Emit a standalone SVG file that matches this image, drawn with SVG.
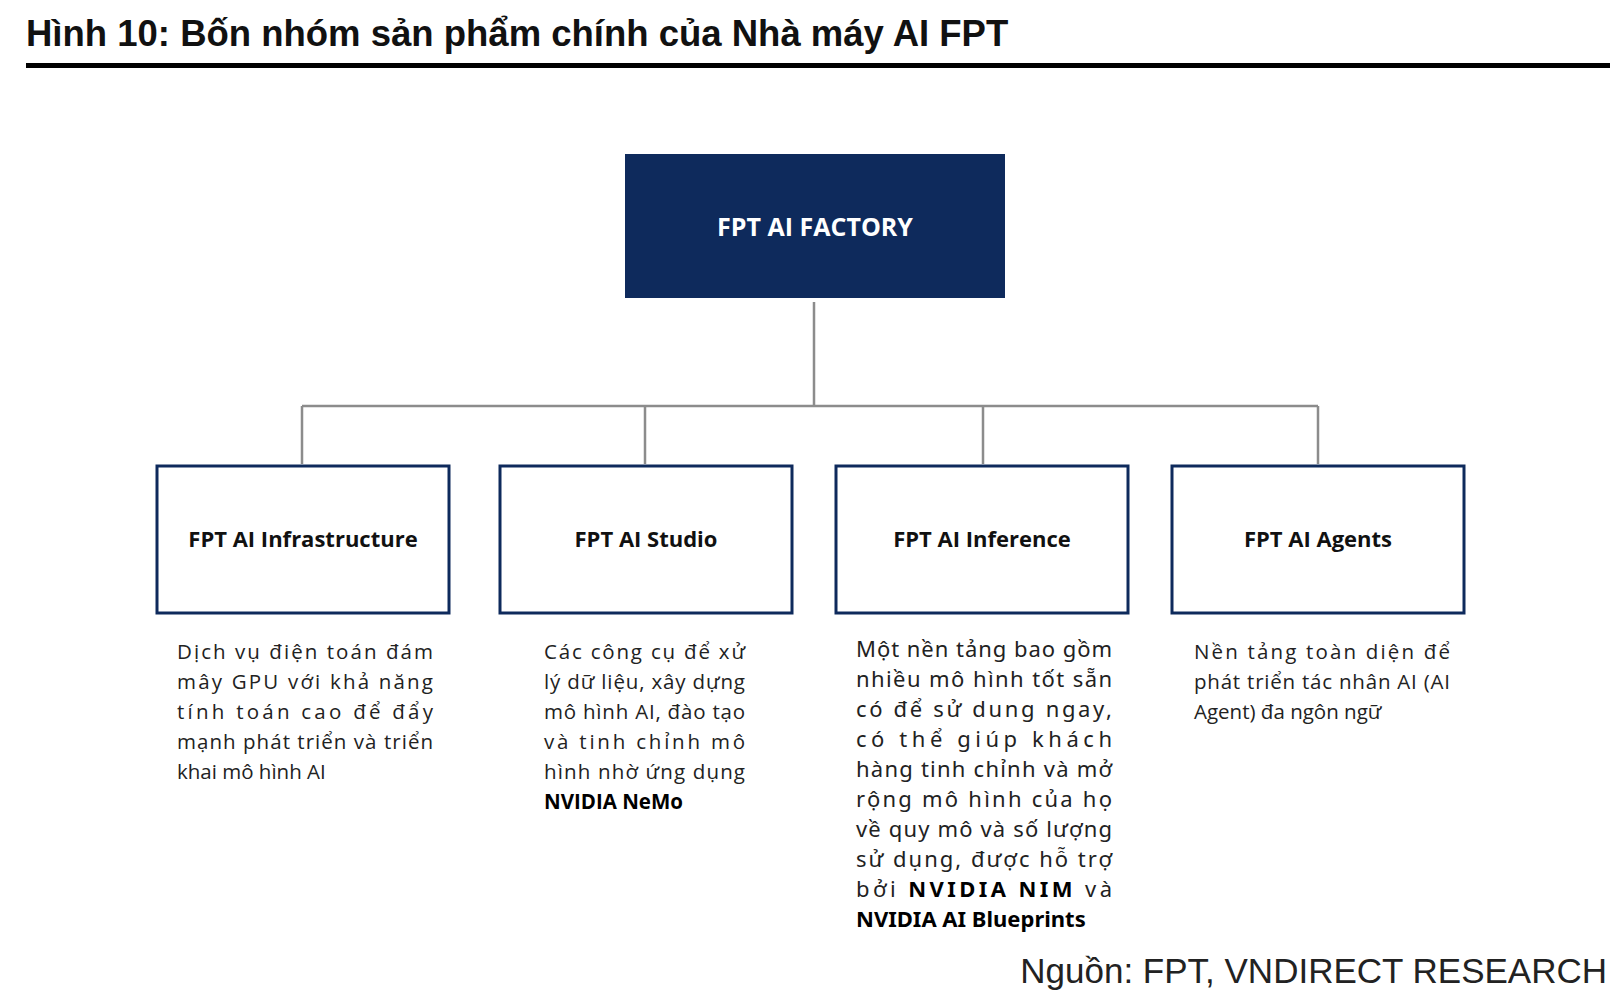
<svg xmlns="http://www.w3.org/2000/svg" width="1624" height="996" viewBox="0 0 1624 996">
<style>
.t{font-family:"Liberation Sans",Arial,sans-serif}
.n{font-family:"Open Sans","Noto Sans",sans-serif;font-weight:bold;fill:#111;text-anchor:middle}
.d{font-family:"Open Sans","Noto Sans",sans-serif;font-size:20.5px;fill:#222}
.d3{font-family:"Noto Sans","Open Sans",sans-serif;font-size:22px;fill:#222}
.b{font-weight:bold;fill:#000}
.box{fill:#fff;stroke:#0e2a5c;stroke-width:3}
.c{stroke:#8c8c8c;stroke-width:2.5;fill:none}
</style>
<rect width="1624" height="996" fill="#fff"/>
<text class="t" x="26" y="46" font-size="36.5" font-weight="bold" fill="#111">Hình 10: Bốn nhóm sản phẩm chính của Nhà máy AI FPT</text>
<rect x="26" y="63" width="1584" height="5" fill="#000"/>
<g id="connectors">
<path class="c" d="M814 302V406M302 406H1318M302 406V464M645 406V464M983 406V464M1318 406V464"/>
</g>
<g id="factory"><rect x="625" y="154" width="380" height="144" fill="#0e2a5c"/>
<text class="n" x="815" y="236" font-size="25" style="fill:#fff">FPT AI FACTORY</text></g>
<g id="infra"><rect class="box" x="157" y="466" width="292" height="147"/>
<text class="n" x="303" y="547" font-size="22">FPT AI Infrastructure</text>
<text class="d" x="177" y="659" textLength="256" lengthAdjust="spacing">Dịch vụ điện toán đám</text>
<text class="d" x="177" y="689" textLength="256" lengthAdjust="spacing">mây GPU với khả năng</text>
<text class="d" x="177" y="719" textLength="256" lengthAdjust="spacing">tính toán cao để đẩy</text>
<text class="d" x="177" y="749" textLength="256" lengthAdjust="spacing">mạnh phát triển và triển</text>
<text class="d" x="177" y="779">khai mô hình AI</text></g>
<g id="studio"><rect class="box" x="500" y="466" width="292" height="147"/>
<text class="n" x="646" y="547" font-size="22">FPT AI Studio</text>
<text class="d" x="544" y="659" textLength="201" lengthAdjust="spacing">Các công cụ để xử</text>
<text class="d" x="544" y="689" textLength="201" lengthAdjust="spacing">lý dữ liệu, xây dựng</text>
<text class="d" x="544" y="719" textLength="201" lengthAdjust="spacing">mô hình AI, đào tạo</text>
<text class="d" x="544" y="749" textLength="201" lengthAdjust="spacing">và tinh chỉnh mô</text>
<text class="d" x="544" y="779" textLength="201" lengthAdjust="spacing">hình nhờ ứng dụng</text>
<text class="d b" x="544" y="809">NVIDIA NeMo</text></g>
<g id="inference"><rect class="box" x="836" y="466" width="292" height="147"/>
<text class="n" x="982" y="547" font-size="22">FPT AI Inference</text>
<text class="d3" x="856" y="657" textLength="256" lengthAdjust="spacing">Một nền tảng bao gồm</text>
<text class="d3" x="856" y="687" textLength="256" lengthAdjust="spacing">nhiều mô hình tốt sẵn</text>
<text class="d3" x="856" y="717" textLength="256" lengthAdjust="spacing">có để sử dung ngay,</text>
<text class="d3" x="856" y="747" textLength="256" lengthAdjust="spacing">có thể giúp khách</text>
<text class="d3" x="856" y="777" textLength="256" lengthAdjust="spacing">hàng tinh chỉnh và mở</text>
<text class="d3" x="856" y="807" textLength="256" lengthAdjust="spacing">rộng mô hình của họ</text>
<text class="d3" x="856" y="837" textLength="256" lengthAdjust="spacing">về quy mô và số lượng</text>
<text class="d3" x="856" y="867" textLength="256" lengthAdjust="spacing">sử dụng, được hỗ trợ</text>
<text class="d3" x="856" y="897" textLength="256" lengthAdjust="spacing">bởi <tspan class="b">NVIDIA NIM</tspan> và</text>
<text class="d3 b" x="856" y="927">NVIDIA AI Blueprints</text></g>
<g id="agents"><rect class="box" x="1172" y="466" width="292" height="147"/>
<text class="n" x="1318" y="547" font-size="22">FPT AI Agents</text>
<text class="d" x="1194" y="659" textLength="256" lengthAdjust="spacing">Nền tảng toàn diện để</text>
<text class="d" x="1194" y="689" textLength="256" lengthAdjust="spacing">phát triển tác nhân AI (AI</text>
<text class="d" x="1194" y="719">Agent) đa ngôn ngữ</text></g>
<text class="t" x="1607" y="983" font-size="35" fill="#222" text-anchor="end">Nguồn: FPT, VNDIRECT RESEARCH</text>
</svg>
